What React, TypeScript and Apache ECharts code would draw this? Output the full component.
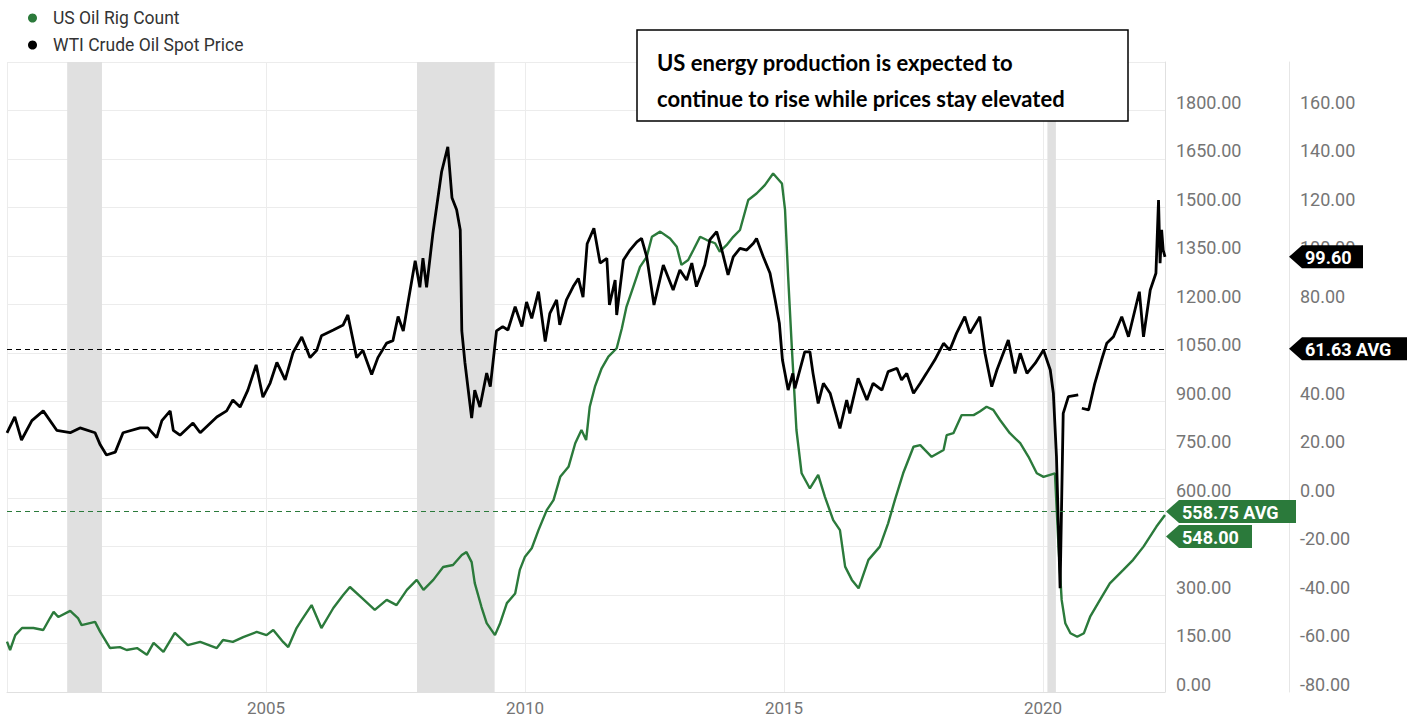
import React, { useEffect, useRef } from "react";
import * as echarts from "echarts";

// ---------- DATA (x = decimal year) ----------
const seriesNames = ["US Oil Rig Count", "WTI Crude Oil Spot Price"];

const rigCount: [number, number][] = [
  [2000.0, 156], [2000.06, 130], [2000.16, 176], [2000.29, 198], [2000.51, 198], [2000.7, 192],
  [2000.83, 229], [2000.9, 248], [2000.99, 232], [2001.22, 251], [2001.37, 229], [2001.44, 207],
  [2001.7, 217], [2001.8, 186], [2001.99, 136], [2002.18, 139], [2002.31, 130], [2002.51, 136],
  [2002.7, 115], [2002.83, 152], [2003.02, 124], [2003.24, 183], [2003.49, 145], [2003.73, 155],
  [2004.05, 136], [2004.17, 161], [2004.36, 155], [2004.56, 170], [2004.82, 186], [2005.01, 176],
  [2005.14, 192], [2005.33, 155], [2005.43, 139], [2005.59, 198], [2005.69, 223], [2005.88, 269],
  [2006.07, 198], [2006.3, 260], [2006.49, 300], [2006.62, 325], [2006.85, 291], [2007.1, 254],
  [2007.33, 285], [2007.52, 269], [2007.72, 316], [2007.91, 347], [2008.04, 316], [2008.23, 347],
  [2008.42, 387], [2008.61, 393], [2008.78, 424], [2008.87, 433], [2008.97, 402], [2009.03, 337],
  [2009.16, 263], [2009.26, 213], [2009.42, 176], [2009.52, 213], [2009.65, 275], [2009.81, 305],
  [2009.9, 378], [2010.0, 419], [2010.13, 445], [2010.26, 501], [2010.42, 563], [2010.55, 594],
  [2010.68, 666], [2010.84, 697], [2010.97, 770], [2011.09, 811], [2011.18, 780], [2011.25, 883],
  [2011.35, 945], [2011.48, 1002], [2011.61, 1038], [2011.77, 1064], [2011.87, 1126], [2011.96, 1193],
  [2012.09, 1254], [2012.22, 1316], [2012.35, 1347], [2012.45, 1409], [2012.61, 1425], [2012.8, 1404],
  [2012.93, 1378], [2013.02, 1322], [2013.15, 1337], [2013.25, 1368], [2013.38, 1409], [2013.51, 1399],
  [2013.67, 1389], [2013.76, 1363], [2013.89, 1383], [2014.02, 1409], [2014.15, 1430], [2014.31, 1523],
  [2014.47, 1543], [2014.63, 1569], [2014.79, 1605], [2014.96, 1574], [2015.02, 1492], [2015.08, 1285],
  [2015.15, 1069], [2015.24, 811], [2015.34, 677], [2015.5, 630], [2015.66, 672], [2015.79, 604],
  [2015.95, 532], [2016.08, 501], [2016.18, 388], [2016.31, 347], [2016.44, 321], [2016.63, 409],
  [2016.85, 450], [2017.01, 522], [2017.14, 594], [2017.3, 677], [2017.5, 759], [2017.63, 764],
  [2017.85, 728], [2018.08, 749], [2018.14, 795], [2018.27, 801], [2018.43, 857], [2018.66, 857],
  [2018.78, 868], [2018.91, 883], [2019.04, 873], [2019.17, 842], [2019.36, 801], [2019.56, 770],
  [2019.72, 728], [2019.88, 677], [2020.01, 666], [2020.23, 677], [2020.3, 450], [2020.36, 285],
  [2020.43, 213], [2020.53, 182], [2020.66, 171], [2020.79, 182], [2020.91, 233], [2021.1, 285],
  [2021.29, 336], [2021.55, 378], [2021.74, 409], [2021.94, 450], [2022.19, 512], [2022.355, 548],
];

const wtiPrice: [number, number | null][] = [
  [2000.0, 26.9], [2000.15, 33.5], [2000.28, 24], [2000.48, 32], [2000.7, 36], [2000.96, 28],
  [2001.22, 27], [2001.41, 29], [2001.7, 27], [2001.8, 22], [2001.92, 17.8], [2002.09, 19],
  [2002.24, 27], [2002.57, 29], [2002.72, 29], [2002.89, 25], [2002.99, 32], [2003.15, 36],
  [2003.21, 28], [2003.34, 26], [2003.59, 31], [2003.73, 27], [2004.05, 33.5], [2004.24, 36],
  [2004.36, 40.5], [2004.5, 37.6], [2004.65, 44.6], [2004.81, 55], [2004.94, 41.7], [2005.08, 47.5],
  [2005.21, 56], [2005.37, 48.8], [2005.52, 60], [2005.69, 66.5], [2005.85, 58], [2005.98, 61],
  [2006.07, 67], [2006.3, 69.4], [2006.49, 71.5], [2006.58, 75.6], [2006.75, 58], [2006.87, 61],
  [2007.04, 51], [2007.16, 58], [2007.33, 64], [2007.45, 65], [2007.55, 75], [2007.65, 69],
  [2007.74, 80.5], [2007.88, 98], [2007.97, 87], [2008.03, 99], [2008.1, 87], [2008.22, 109],
  [2008.39, 134.7], [2008.51, 145], [2008.59, 124], [2008.68, 119], [2008.75, 110.7], [2008.78, 69],
  [2008.84, 56], [2008.97, 33], [2009.03, 44.6], [2009.13, 37.6], [2009.26, 51.6], [2009.33, 46],
  [2009.45, 69], [2009.57, 70.8], [2009.67, 69.4], [2009.81, 79], [2009.94, 70.8], [2010.03, 81],
  [2010.13, 74.2], [2010.26, 85.2], [2010.39, 64.6], [2010.48, 76.3], [2010.61, 81.8], [2010.67, 71.5],
  [2010.8, 81.8], [2010.93, 87.3], [2011.03, 90.7], [2011.12, 83], [2011.2, 105], [2011.33, 111.4],
  [2011.45, 97], [2011.58, 99], [2011.63, 79.7], [2011.74, 90], [2011.77, 75.6], [2011.9, 98.3],
  [2012.03, 102.5], [2012.16, 105.8], [2012.25, 107.2], [2012.35, 99.6], [2012.49, 79.7], [2012.67, 96.2],
  [2012.86, 85.9], [2012.99, 94.2], [2013.12, 90], [2013.22, 97], [2013.31, 87.3], [2013.47, 96.2],
  [2013.57, 106.7], [2013.7, 110], [2013.8, 102.4], [2013.92, 92.1], [2014.02, 99.6], [2014.15, 103.1],
  [2014.28, 102.4], [2014.41, 105.2], [2014.47, 107.2], [2014.6, 99.6], [2014.73, 92.8], [2014.83, 81.8],
  [2014.91, 72.2], [2014.97, 57], [2015.08, 44.6], [2015.17, 51.5], [2015.21, 45.3], [2015.4, 60.4],
  [2015.5, 60.4], [2015.56, 51.5], [2015.66, 39.1], [2015.76, 47.4], [2015.89, 43.3], [2015.98, 36.4],
  [2016.08, 28.8], [2016.21, 40.5], [2016.27, 35], [2016.43, 49.5], [2016.6, 40.5], [2016.72, 47.4],
  [2016.89, 44.6], [2017.01, 52.2], [2017.18, 53.6], [2017.27, 48.8], [2017.37, 51.5], [2017.5, 43.3],
  [2017.63, 47.4], [2017.75, 51.5], [2017.91, 57], [2018.08, 63.9], [2018.2, 61.1], [2018.33, 68],
  [2018.49, 74.9], [2018.59, 68], [2018.78, 74.9], [2018.88, 59.8], [2019.01, 46], [2019.11, 52.9],
  [2019.33, 65.3], [2019.46, 51.5], [2019.56, 59.8], [2019.69, 51.5], [2019.85, 55.7], [2020.01, 61.1],
  [2020.14, 52.9], [2020.2, 43.3], [2020.26, 17.1], [2020.33, -37.2], [2020.39, 35], [2020.49, 41.9],
  [2020.68, 42.6], [2020.71, null], [2020.75, 37.1], [2020.88, 36.4], [2021.0, 47.4], [2021.13, 57],
  [2021.23, 63.9], [2021.36, 66.6], [2021.52, 74.9], [2021.65, 66.6], [2021.86, 85.2], [2021.94, 66.6],
  [2022.07, 85.9], [2022.18, 92.8], [2022.23, 123], [2022.26, 97], [2022.29, 110.7], [2022.32, 102.4],
  [2022.355, 99.6],
];

const rigAverage = 558.75;
const wtiAverage = 61.63;

const recessions: [string, string][] = [
  ["2001-03-01", "2001-11-01"],
  ["2007-12-01", "2009-06-01"],
  ["2020-02-01", "2020-04-01"],
];

const annotationLines = [
  "US energy production is expected to",
  "continue to rise while prices stay elevated",
];

// ---------- HELPERS ----------
const GREEN = "#2b7a3b";
const BLACK = "#000000";

function toYear(s: string): number {
  const d = new Date(s + "T00:00:00Z");
  const y = d.getUTCFullYear();
  const a = Date.UTC(y, 0, 1);
  const b = Date.UTC(y + 1, 0, 1);
  return y + (d.getTime() - a) / (b - a);
}

export default function App() {
  const ref = useRef<HTMLDivElement>(null);

  useEffect(() => {
    if (!ref.current) return;
    const chart = echarts.init(ref.current, undefined, { renderer: "svg" });

    const rigData = rigCount.map(([x, v]) => [x, v]);
    const wtiData = wtiPrice.map(([x, v]) => [x, v === null ? "-" : v]);
    const xMax = rigCount[rigCount.length - 1][0];

    const labelStyle = {
      color: "#757575",
      fontSize: 18,
      fontFamily: "Roboto",
      align: "left" as const,
      verticalAlign: "bottom" as const,
      lineHeight: 16,
      margin: 11,
      showMaxLabel: false,
      formatter: (v: number) => v.toFixed(2),
    };

    chart.setOption({
      animation: false,
      backgroundColor: "#ffffff",
      textStyle: { fontFamily: "Roboto" },
      legend: {
        data: seriesNames,
        orient: "vertical",
        left: 28,
        top: 9,
        padding: 0,
        icon: "circle",
        itemWidth: 9,
        itemHeight: 9,
        itemGap: 9,
        textStyle: { fontSize: 17.5, color: "#333", fontFamily: "Roboto", padding: [0, 0, 0, 11], lineHeight: 17 },
      },
      grid: {
        left: 7,
        right: 254,
        top: 62,
        bottom: 27,
        containLabel: false,
        outerBoundsMode: "none",
      },
      xAxis: {
        type: "value",
        min: 2000,
        max: xMax,
        interval: 5,
        axisLine: { show: true, lineStyle: { color: "#e0e0e0" } },
        axisTick: { show: false },
        splitLine: { show: true, lineStyle: { color: "#ececec" } },
        axisLabel: {
          color: "#757575",
          fontSize: 17,
          margin: 7,
          showMinLabel: false,
          showMaxLabel: false,
          formatter: (v: number) => String(Math.round(v)),
        },
      },
      yAxis: [
        {
          type: "value",
          position: "right",
          min: 0,
          max: 1950,
          interval: 150,
          axisLine: { show: true, lineStyle: { color: "#e0e0e0" } },
          axisTick: { show: false },
          splitLine: { show: true, lineStyle: { color: "#ececec" } },
          axisLabel: labelStyle,
        },
        {
          type: "value",
          position: "right",
          offset: 124,
          min: -80,
          max: 180,
          interval: 20,
          axisLine: { show: true, lineStyle: { color: "#e6e6e6" } },
          axisTick: { show: false },
          splitLine: { show: false },
          axisLabel: labelStyle,
        },
      ],
      series: [
        {
          name: seriesNames[0],
          type: "line",
          yAxisIndex: 0,
          data: rigData,
          color: GREEN,
          showSymbol: false,
          lineStyle: { color: GREEN, width: 2.4 },
          z: 2,
          markArea: {
            silent: true,
            itemStyle: { color: "#e0e0e0" },
            data: recessions.map(([a, b]) => [{ xAxis: toYear(a) }, { xAxis: toYear(b) }]),
          },
          markLine: {
            silent: true,
            symbol: "none",
            label: { show: false },
            lineStyle: { color: GREEN, type: [5, 4], width: 1 },
            data: [{ yAxis: rigAverage }],
          },
        },
        {
          name: seriesNames[1],
          type: "line",
          yAxisIndex: 1,
          data: wtiData,
          color: BLACK,
          showSymbol: false,
          connectNulls: false,
          lineStyle: { color: BLACK, width: 2.8 },
          z: 3,
          markLine: {
            silent: true,
            symbol: "none",
            label: { show: false },
            lineStyle: { color: BLACK, type: [5, 4], width: 1 },
            data: [{ yAxis: wtiAverage }],
          },
        },
      ],
    });

    // value tags on the right, positioned through the axes' scales
    const rigLast = rigCount[rigCount.length - 1][1];
    const wtiLast = wtiPrice[wtiPrice.length - 1][1] as number;
    const yPix = (idx: number, v: number) => chart.convertToPixel({ yAxisIndex: idx }, v) as number;
    const TAG_H = 23;

    const tag = (tipX: number, y: number, width: number, text: string, color: string) => {
      const h = TAG_H / 2;
      const ax = 13;
      return [
        {
          type: "polygon",
          z: 100,
          shape: {
            points: [
              [tipX, y],
              [tipX + ax, y - h],
              [tipX + ax + width, y - h],
              [tipX + ax + width, y + h],
              [tipX + ax, y + h],
            ],
          },
          style: { fill: color },
        },
        {
          type: "text",
          z: 101,
          x: tipX + ax + 3,
          y: y + 1,
          style: {
            text,
            fill: "#ffffff",
            fontSize: 18,
            fontWeight: "bold",
            fontFamily: "Roboto",
            verticalAlign: "middle",
            align: "left",
          },
        },
      ];
    };

    const yRigAvg = yPix(0, rigAverage);
    let yRigLast = yPix(0, rigLast);
    if (Math.abs(yRigLast - yRigAvg) < TAG_H + 2) yRigLast = yRigAvg + TAG_H + 2;
    const yWtiAvg = yPix(1, wtiAverage);
    let yWtiLast = yPix(1, wtiLast);
    if (Math.abs(yWtiLast - yWtiAvg) < TAG_H + 2) yWtiLast = yWtiAvg - TAG_H - 2;

    const gridRight = 1419 - 254;
    const rightAxisX = gridRight + 124;

    chart.setOption({
      graphic: [
        {
          type: "rect",
          z: 90,
          shape: { x: 637, y: 30, width: 491, height: 91 },
          style: { fill: "#ffffff", stroke: "#000000", lineWidth: 1.5 },
        },
        ...annotationLines.map((t, i) => ({
          type: "text",
          z: 91,
          x: 657,
          y: 62 + i * 36,
          style: {
            text: t,
            fill: "#000000",
            fontSize: 22,
            fontWeight: "bold",
            fontFamily: "Lato",
            verticalAlign: "middle",
            align: "left",
          },
        })),
        ...tag(gridRight + 1, yRigAvg, 117, `${rigAverage.toFixed(2)} AVG`, GREEN),
        ...tag(gridRight + 1, yRigLast, 73, rigLast.toFixed(2), GREEN),
        ...tag(rightAxisX, yWtiLast, 61, wtiLast.toFixed(2), BLACK),
        ...tag(rightAxisX, yWtiAvg, 105, `${wtiAverage.toFixed(2)} AVG`, BLACK),
      ],
    });

    return () => chart.dispose();
  }, []);

  return (
    <div
      ref={ref}
      style={{ position: "absolute", left: 0, top: 0, width: 1419, height: 719, background: "#fff" }}
    />
  );
}
